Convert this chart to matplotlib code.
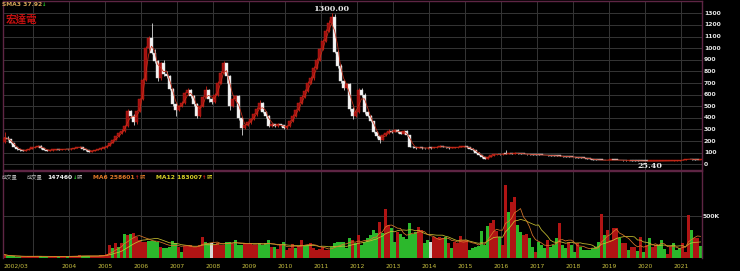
import numpy as np
import pandas as pd
import matplotlib
matplotlib.use("Agg")
import matplotlib.pyplot as plt
from matplotlib import transforms

# ---------------- data (monthly, 2002/03 .. 2021/07) ----------------
start_month = "2002-03"
first_open = 195

close = [
    230, 215, 180, 150, 130, 120, 118, 125, 135, 145,
    150, 160, 140, 125, 118, 122, 125, 128, 125, 130, 132, 128,
    135, 140, 145, 150, 130, 120, 110, 115, 125, 130, 140, 145,
    160, 185, 210, 240, 270, 290, 330, 460, 420, 360, 460, 560,
    730, 1000, 1090, 960, 890, 740, 870, 780, 760, 650, 520, 470,
    500, 530, 610, 640, 590, 520, 420, 500, 580, 640, 560, 540,
    600, 700, 790, 870, 760, 500, 560, 590, 400, 310, 340, 360,
    390, 430, 480, 530, 450, 420, 330, 345, 330, 345, 335, 310,
    330, 370, 420, 470, 530, 580, 630, 700, 740, 830, 900, 990,
    1060, 1150, 1220, 1270, 970, 850, 720, 660, 690, 480, 420, 450,
    640, 600, 450, 420, 370, 280, 240, 210, 250, 270, 290, 280,
    295, 280, 265, 290, 250, 150, 145, 140, 145, 140, 138, 142,
    140, 145, 150, 155, 150, 145, 140, 142, 145, 148, 150, 155,
    145, 135, 120, 100, 80, 60, 50, 65, 78, 85, 88, 85,
    90, 88, 95, 92, 98, 95, 90, 88, 86, 85, 84, 83,
    82, 80, 78, 77, 75, 74, 72, 70, 68, 66, 65, 63,
    60, 58, 55, 53, 50, 45, 40, 38, 37, 36, 35, 36,
    38, 37, 36, 35, 34, 33, 33, 32, 31, 30, 29, 28,
    27, 27, 27, 28, 29, 30, 30, 30, 30, 31, 32, 34,
    40, 44, 46, 42, 38.5, 37.25, 38,
]

high = [
    275, 245, 218, 185, 152, 133, 124, 128, 138, 148,
    155, 168, 162, 142, 127, 125, 128, 131, 131, 133, 136, 134,
    138, 143, 149, 156, 152, 132, 122, 118, 127, 133, 144, 150,
    165, 190, 218, 248, 280, 300, 340, 475, 470, 430, 470, 575,
    745, 1015, 1105, 1220, 990, 900, 885, 900, 800, 770, 660, 530,
    510, 545, 620, 660, 645, 600, 530, 510, 590, 670, 650, 575,
    615, 715, 805, 890, 875, 770, 580, 600, 600, 410, 350, 370,
    400, 440, 490, 550, 540, 460, 425, 352, 350, 352, 350, 340,
    340, 378, 430, 480, 540, 595, 645, 715, 760, 845, 915, 1005,
    1080, 1165, 1240, 1300, 1290, 980, 860, 730, 700, 700, 490, 460,
    660, 660, 610, 460, 425, 375, 285, 245, 258, 280, 300, 295,
    305, 300, 285, 298, 295, 255, 155, 148, 150, 148, 143, 146,
    145, 148, 154, 165, 158, 153, 148, 145, 148, 151, 154, 158,
    157, 147, 137, 122, 102, 82, 62, 68, 82, 88, 92, 91,
    98, 125, 100, 98, 102, 100, 97, 92, 90, 88, 87, 86,
    85, 84, 82, 80, 79, 77, 76, 76, 72, 70, 68, 67,
    65, 62, 60, 57, 55, 52, 47, 42, 40, 39, 38, 38,
    41, 40, 39, 38, 37, 36, 35, 35, 34, 33, 32, 31,
    30, 29, 29, 30, 31, 32, 32, 32, 32, 33, 34, 36,
    43, 48, 50, 47, 43, 40, 40,
]

low = [
    185, 205, 175, 145, 125, 115, 112, 115, 122, 132,
    140, 146, 135, 120, 112, 115, 118, 121, 120, 122, 127, 124,
    125, 132, 137, 142, 126, 116, 105, 107, 112, 121, 127, 136,
    142, 155, 180, 205, 232, 260, 280, 320, 400, 340, 350, 450,
    550, 720, 980, 950, 870, 720, 730, 760, 740, 640, 500, 420,
    455, 490, 520, 600, 570, 500, 400, 410, 490, 570, 540, 520,
    530, 590, 690, 780, 700, 470, 490, 540, 380, 250, 300, 330,
    350, 380, 420, 470, 440, 400, 320, 325, 322, 325, 328, 300,
    300, 325, 365, 410, 460, 520, 570, 620, 690, 730, 820, 890,
    980, 1050, 1140, 1210, 960, 830, 700, 640, 650, 460, 390, 410,
    440, 580, 430, 410, 360, 270, 230, 185, 205, 245, 265, 272,
    275, 270, 258, 260, 240, 145, 140, 135, 137, 136, 133, 135,
    136, 137, 142, 147, 146, 141, 136, 137, 139, 142, 145, 147,
    142, 132, 117, 97, 77, 55, 45, 48, 63, 75, 82, 82,
    80, 85, 86, 89, 90, 92, 88, 85, 84, 83, 82, 81,
    80, 78, 76, 75, 73, 72, 70, 68, 66, 64, 63, 61,
    58, 56, 53, 51, 48, 43, 38, 36, 35, 34, 33, 33,
    35, 35, 34, 33, 32, 31, 31, 30, 29, 28, 27, 27,
    26, 25.4, 26, 26, 27, 28, 28, 28, 29, 29, 30, 31,
    33, 39, 42, 40, 36, 36, 36,
]

# volume in thousands of shares (張)
volume_k = [
    40, 25, 20, 18, 15, 15, 14, 16, 18, 20,
    22, 28, 20, 16, 15, 16, 17, 18, 16, 18, 20, 18,
    22, 25, 28, 30, 26, 22, 20, 22, 25, 28, 32, 36,
    50, 155, 115, 175, 135, 175, 280, 275, 280, 295, 255, 215,
    195, 195, 203, 203, 203, 195, 135, 123, 115, 135, 203, 175,
    135, 75, 147, 147, 155, 135, 135, 150, 255, 195, 180, 175,
    155, 175, 160, 160, 195, 195, 165, 210, 160, 150, 175, 165,
    175, 160, 160, 175, 155, 180, 220, 135, 135, 107, 155, 195,
    95, 115, 170, 115, 140, 215, 155, 155, 175, 115, 95, 105,
    135, 95, 100, 135, 175, 195, 195, 187, 125, 235, 215, 175,
    275, 155, 195, 235, 275, 333, 300, 433, 295, 580, 393, 353,
    195, 313, 282, 254, 230, 413, 282, 305, 373, 333, 175, 215,
    195, 254, 234, 250, 234, 254, 175, 115, 195, 175, 262, 214,
    214, 95, 123, 135, 147, 321, 155, 385, 420, 452, 321, 254,
    155, 870, 552, 671, 730, 393, 313, 274, 282, 234, 135, 75,
    195, 155, 123, 215, 135, 155, 242, 413, 155, 115, 195, 155,
    75, 175, 135, 95, 95, 95, 115, 135, 195, 520, 274, 333,
    214, 361, 361, 234, 175, 175, 95, 135, 135, 83, 254, 75,
    155, 242, 135, 155, 155, 214, 107, 44, 135, 175, 95, 123,
    175, 75, 515, 333, 242, 234, 147,
]

# volume bar colour codes, one string per year
# r = red, g = green, w = white
volume_code_by_year = [
    "rgggggrrrr",      # 2002 (from March)
    "rrgggrrrgrrg",    # 2003
    "rrrrgggrrrrr",    # 2004
    "rrgrgrgrgrrr",    # 2005
    "rrggggrggggg",    # 2006
    "rgrrrrrrrggw",    # 2007
    "rrrrggrgggrr",    # 2008
    "rrrggggrgrrg",    # 2009
    "rrrgrrggrrrr",    # 2010
    "rrrgggggggrg",    # 2011
    "rggggggrgrrg",    # 2012
    "grggggggrrgg",    # 2013
    "wrrrrgrgrrrr",    # 2014
    "rgggggggrrrg",    # 2015
    "rrgrrggrrggr",    # 2016
    "gggrgggrggrg",    # 2017
    "grgggggggrgr",    # 2018
    "rrrgrrgrrgrg",    # 2019
    "rgrrgggrrggg",    # 2020
    "rrrgrrg",         # 2021 (to July)
]

sma3_text = "SMA3 37.92"
vol_text = "147460"
ma6_text = "MA6 258601"
ma12_text = "MA12 183007"
stock_name = "宏達電"

year_labels = ["2004", "2005", "2006", "2007", "2008", "2009", "2010", "2011",
               "2012", "2013", "2014", "2015", "2016", "2017", "2018", "2019",
               "2020", "2021"]

# ---------------- derived ----------------
n = len(close)
months = pd.period_range(start_month, periods=n, freq="M")
x = np.arange(n)
c = np.array(close, dtype=float)
o = np.r_[first_open, c[:-1]]
h = np.array(high, dtype=float)
l = np.array(low, dtype=float)
up = c >= o
v = np.array(volume_k, dtype=float) * 1000
codes = list("".join(volume_code_by_year))[:n]

sma3 = pd.Series(c).rolling(3, min_periods=1).mean()
ma6 = pd.Series(v).rolling(6, min_periods=1).mean()
ma12 = pd.Series(v).rolling(12, min_periods=1).mean()

# ---------------- figure ----------------
W, H = 740, 271
fig = plt.figure(figsize=(W / 100, H / 100), dpi=100, facecolor="black")

def fx(px):
    return px / W

def fy(py):
    return 1 - py / H

ax1 = fig.add_axes([fx(3), fy(170), fx(699), 169 / H])
ax2 = fig.add_axes([fx(3), fy(258), fx(699), 87 / H])

border = "#5e2544"
gridc = "#353535"
for ax in (ax1, ax2):
    ax.set_facecolor("black")
    ax.set_xlim(-0.5, n - 0.5)
    ax.set_xticks([])
    ax.set_yticks([])
    for s in ax.spines.values():
        s.set_color(border)
        s.set_linewidth(1.0)
ax2.spines["bottom"].set_visible(False)

ax1.set_ylim(-49, 1406)
ax2.set_ylim(0, 1036000)

# year boundaries (January of each year)
jan_idx = [i for i, p in enumerate(months) if p.month == 1]
for i in jan_idx:
    ax1.axvline(i - 0.5, color=gridc, lw=0.7, zorder=0)
    ax2.axvline(i - 0.5, color=gridc, lw=0.7, zorder=0)
for yv in range(0, 1400, 100):
    ax1.axhline(yv, color=gridc, lw=0.7, zorder=0)
ax2.axhline(500000, color=gridc, lw=0.7, zorder=0)

# ---------------- candles ----------------
red_fill, red_edge = "#a01010", "#cc2418"
wh_fill, wh_edge = "#f4f4f4", "#d8d8d8"
body_lo = np.minimum(o, c)
body_h = np.maximum(np.abs(c - o), 6)
wick_cols = np.where(up, red_edge, wh_edge)
ax1.vlines(x, l, h, colors=wick_cols, lw=0.6, zorder=2)
ax1.bar(x, body_h, bottom=body_lo, width=0.7,
        color=np.where(up, red_fill, wh_fill),
        edgecolor=np.where(up, red_edge, wh_edge), linewidth=0.3, zorder=3)
ax1.plot(x, sma3, color="#c8301a", lw=0.55, zorder=4)

# high / low labels
imax = int(np.argmax(h))
imin = int(np.argmin(l))
ax1.annotate(f"{h[imax]:.2f}", (imax, h[imax]), xytext=(0, 0.5),
             textcoords="offset points", ha="center", va="bottom",
             color="#e8e8e8", fontsize=5.8, fontweight="bold",
             family="DejaVu Serif", zorder=5)
ax1.annotate(f"{l[imin]:.2f}", (imin, l[imin]), xytext=(0, -0.5),
             textcoords="offset points", ha="center", va="top",
             color="#e8e8e8", fontsize=5.8, fontweight="bold",
             family="DejaVu Serif", zorder=5)

# ---------------- volume ----------------
cmap = {"r": "#b01414", "g": "#2cb82c", "w": "#d8d8d8"}
ax2.bar(x, v, width=0.7, color=[cmap[k] for k in codes], linewidth=0,
        antialiased=False, zorder=2)
ax2.plot(x, ma12, color="#c8c030", lw=0.55, zorder=3)
ax2.plot(x, ma6, color="#d8782a", lw=0.55, zorder=4)

# ---------------- axis labels ----------------
tr1 = transforms.blended_transform_factory(fig.transFigure, ax1.transData)
for yv in range(0, 1400, 100):
    ax1.text(fx(704), yv, str(yv), transform=tr1, ha="left", va="center",
             color="#e6e6e6", fontsize=4.4, fontweight="bold")
tr2 = transforms.blended_transform_factory(fig.transFigure, ax2.transData)
ax2.text(fx(703), 500000, "500K", transform=tr2, ha="left", va="center",
         color="#e6e6e6", fontsize=4.4, fontweight="bold")

trx = transforms.blended_transform_factory(ax2.transData, fig.transFigure)
xlab_col = "#c8c040"
ax2.text(-0.5, fy(266), f"{months[0].year}/{months[0].month:02d}", transform=trx,
         ha="left", va="center", color=xlab_col, fontsize=4.3)
for i in jan_idx:
    lab = str(months[i].year)
    if lab in year_labels:
        ax2.text(i - 0.5, fy(266), lab, transform=trx, ha="center",
                 va="center", color=xlab_col, fontsize=4.3)

# ---------------- legends ----------------
cjk = ["Noto Sans CJK TC", "DejaVu Sans"]
fig.text(fx(2), fy(5), sma3_text, ha="left", va="center", color="#d4a458",
         fontsize=4.3, fontweight="bold")
fig.text(fx(42), fy(5), "↓", ha="left", va="center", color="#2ad02a",
         fontsize=3.8, fontweight="bold")
fig.text(fx(5.5), fy(20), stock_name, ha="left", va="center", color="#c41010",
         fontsize=7.6, fontweight="bold", family=cjk)

ly = fy(177.5)
fig.text(fx(2), ly, "成交量", ha="left", va="center", color="#b8b8b8",
         fontsize=3.8, family=cjk)
fig.text(fx(27), ly, "成交量", ha="left", va="center", color="#b8b8b8",
         fontsize=3.8, family=cjk)
fig.text(fx(47), ly, vol_text, ha="left", va="center", color="#f0f0f0",
         fontsize=4.3, fontweight="bold")
fig.text(fx(72.5), ly, "↓", ha="left", va="center", color="#2ad02a",
         fontsize=3.8, fontweight="bold")
fig.text(fx(77), ly, "張", ha="left", va="center", color="#b8b8b8",
         fontsize=3.8, family=cjk)
fig.text(fx(93), ly, ma6_text, ha="left", va="center", color="#e07828",
         fontsize=4.3, fontweight="bold")
fig.text(fx(135), ly, "↑", ha="left", va="center", color="#e02020",
         fontsize=3.8, fontweight="bold")
fig.text(fx(139.5), ly, "張", ha="left", va="center", color="#e07828",
         fontsize=3.8, family=cjk)
fig.text(fx(156), ly, ma12_text, ha="left", va="center", color="#d8d028",
         fontsize=4.3, fontweight="bold")
fig.text(fx(202.5), ly, "↑", ha="left", va="center", color="#e02020",
         fontsize=3.8, fontweight="bold")
fig.text(fx(207), ly, "張", ha="left", va="center", color="#d8d028",
         fontsize=3.8, family=cjk)

fig.savefig("out.png", dpi=100, facecolor="black")
